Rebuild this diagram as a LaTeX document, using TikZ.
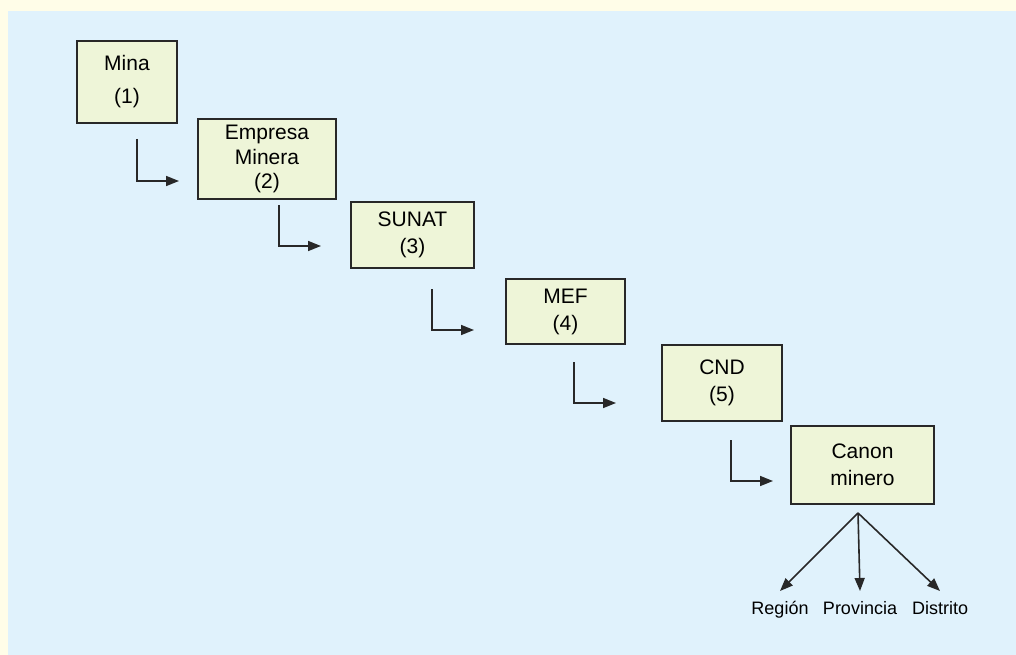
\documentclass[tikz,border=0pt]{standalone}
\usepackage{fontspec}
\setmainfont{Liberation Sans}
\usetikzlibrary{arrows.meta}
\definecolor{crema}{RGB}{255,253,232}
\definecolor{celeste}{RGB}{224,242,252}
\definecolor{verdoso}{RGB}{238,245,216}
\definecolor{borde}{RGB}{40,40,40}
\tikzset{
	caja/.style={draw=borde,line width=1.8pt,fill=verdoso,align=center,inner sep=0pt,font=\fontsize{21}{24.5}\selectfont},
	flecha/.style={draw=borde,line width=1.6pt,-{Triangle[length=13pt,width=10pt]}},
	etiqueta/.style={font=\fontsize{18}{22}\selectfont,anchor=north,text height=14pt,text depth=4pt,inner xsep=2pt,inner ysep=9pt}
}
\begin{document}
	\begin{tikzpicture}[x=1pt,y=-1pt]
		\fill[crema] (0,0) rectangle (1016,655);
		\fill[celeste] (8,11) rectangle (1016,655);
		\foreach \nombre/\x/\y/\w/\h/\texto in {mina/127/82/100/82/{Mina\\[8.5pt](1)}, empresa/267/159/138/80/{Empresa\\Minera\\(2)}, sunat/412.5/235/123/66/{SUNAT\\[2.5pt](3)}, mef/565.5/311.5/119/65/{MEF\\[2.5pt](4)}, cnd/722/383/120/76/{CND\\[2.5pt](5)}, canon/862.5/465/143/78/{Canon\\[2.5pt]minero}}{
			\node[caja,minimum width=\w,minimum height=\h] (\nombre) at (\x,\y) {\texto};
		}
		\foreach \n/\xa/\ya/\yb/\xb in {1/137/139/181/179, 2/279/205/246/321, 3/432/289/330/474, 4/574/362/403/616, 5/731/440/481/773}{
			\coordinate (ini\n) at (\xa,\ya);
			\coordinate (fin\n) at (\xb,\yb);
			\draw[flecha] (ini\n) |- (fin\n);
		}
		\coordinate (reparto) at (858,513);
		\node[etiqueta] (region) at (780,591) {Región};
		\node[etiqueta] (provincia) at (860,591) {Provincia};
		\node[etiqueta] (distrito) at (940,591) {Distrito};
		\foreach \destino in {region,provincia,distrito}{
			\draw[flecha] (reparto) -- (\destino.north);
		}
	\end{tikzpicture}
\end{document}
